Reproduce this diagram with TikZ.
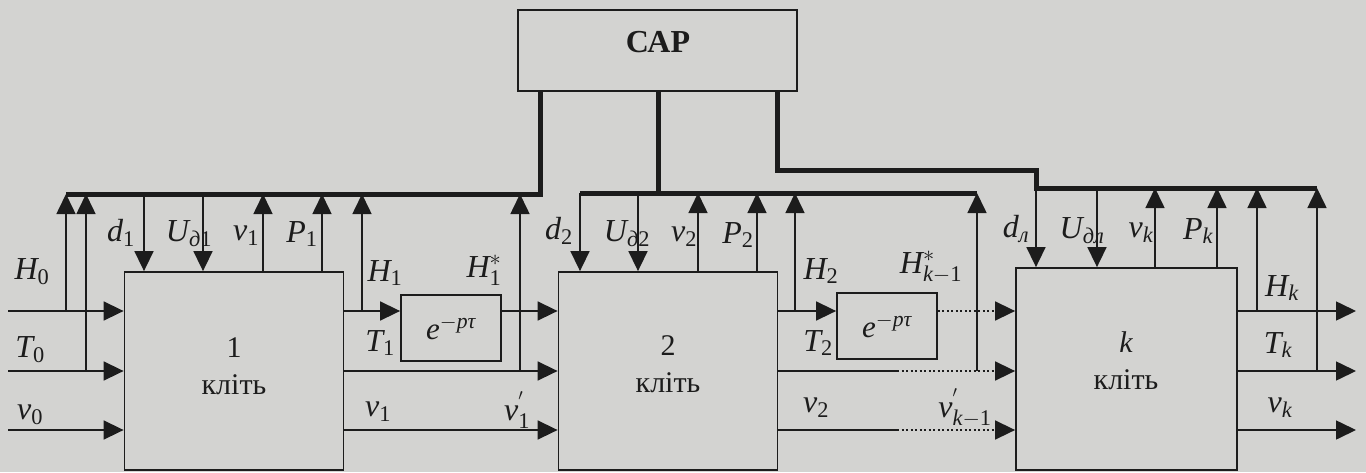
\documentclass[tikz,border=0pt]{standalone}
\usepackage{fix-cm}
\usepackage{amsmath}
\usepackage{fontspec}
\setmainfont{Liberation Serif}
\usetikzlibrary{arrows.meta}

\definecolor{paper}{RGB}{211,211,209}
\definecolor{ink}{RGB}{28,28,28}

% italic letter of the main font inside math
\newcommand{\tv}[1]{\text{\itshape #1}}
\newcommand{\tn}[1]{\text{#1}}

\tikzset{
  box/.style={draw, line width=1.8pt, inner sep=0pt},
  blk/.style={box, minimum width=219pt, minimum height=198pt},
  dly/.style={box, minimum width=100pt, minimum height=66pt, font=\fontsize{31}{34}\selectfont},
  sig/.style={line width=1.6pt, -{Triangle[length=20pt,width=19pt]}},
  wire/.style={line width=1.6pt},
  dots/.style={line width=1.6pt, dash pattern=on 2pt off 2.5pt},
  bus/.style={line width=5pt},
  lbl/.style={inner sep=0pt, font=\fontsize{32}{34}\selectfont},
  blktxt/.style={inner sep=0pt, align=center, font=\fontsize{30}{37}\selectfont},
}

\begin{document}
\begin{tikzpicture}[x=1pt, y=-1pt, color=ink]
  \fill[paper] (0,0) rectangle (1366,472);
  % Boxes:
  \node[box, minimum width=279pt, minimum height=81pt] (sar) at (657.5,50.5) {};
  \node[inner sep=0pt, font=\bfseries\fontsize{32}{36}\selectfont] (sartxt) at (658,42) {САР};
  \node[blk] (b1) at (234,371) {};
  \node[blk] (b2) at (668,371) {};
  \node[blk, minimum width=221pt, minimum height=202pt] (bk) at (1126.5,369) {};
  \node[blktxt] (b1txt) at (234,366) {1\\кліть};
  \node[blktxt] (b2txt) at (668,364) {2\\кліть};
  \node[blktxt] (bktxt) at (1126,361) {\itshape k\\\upshape кліть};
  \node[dly] (del1) at (451,328) {$\tv{e}^{-\tv{pτ}}$};
  \node[dly] (del2) at (887,326) {$\tv{e}^{-\tv{pτ}}$};

  % Buses from the controller:
  \coordinate (bus1w) at (66,194);
  \coordinate (bus1e) at (540,194);
  \coordinate (bus2w) at (580,193);
  \coordinate (bus2e) at (977,193);
  \coordinate (bus3w) at (1036,188);
  \coordinate (bus3e) at (1317,188);
  \coordinate (bend) at (777,170);
  \draw[bus] (bus1w) -- (bus1e) -- (bus1e |- sar.south);
  \draw[bus] (bus2w) -- (bus2e);
  \draw[bus] (658,193) -- (658,91);
  \draw[bus] (bend |- sar.south) -- (bend) -| (bus3w) -- (bus3e);

  % Inputs of block 1:
  \coordinate (inH) at (8,311);
  \coordinate (inT) at (8,371);
  \coordinate (inV) at (8,430);
  \draw[sig] (inH) -- (inH -| b1.west);
  \draw[sig] (inT) -- (inT -| b1.west);
  \draw[sig] (inV) -- (inV -| b1.west);
  \draw[sig] (66,311) -- (bus1w);
  \draw[sig] (86,371) -- (86,194);

  % Block 1 to the bus:
  \draw[sig] (144,194) -- (144,194 |- b1.north);
  \draw[sig] (203,194) -- (203,194 |- b1.north);
  \draw[sig] (263,194 |- b1.north) -- (263,194);
  \draw[sig] (322,194 |- b1.north) -- (322,194);

  % Block 1 outputs:
  \draw[sig] (b1.east |- inH) -- (del1.west |- inH);
  \draw[sig] (362,311) -- (362,194);
  \draw[sig] (del1.east |- inH) -- (b2.west |- inH);
  \draw[sig] (b1.east |- inT) -- (b2.west |- inT);
  \draw[sig] (520,371) -- (520,194);
  \draw[sig] (b1.east |- inV) -- (b2.west |- inV);

  % Block 2 to the bus:
  \draw[sig] (bus2w) -- (bus2w |- b2.north);
  \draw[sig] (638,193) -- (638,193 |- b2.north);
  \draw[sig] (698,193 |- b2.north) -- (698,193);
  \draw[sig] (757,193 |- b2.north) -- (757,193);

  % Block 2 outputs:
  \draw[sig] (b2.east |- inH) -- (del2.west |- inH);
  \draw[sig] (795,311) -- (795,193);
  \draw[dots, -{Triangle[length=20pt,width=19pt]}] (del2.east |- inH) -- (bk.west |- inH);
  \draw[wire] (b2.east |- inT) -- (897,371);
  \draw[dots, -{Triangle[length=20pt,width=19pt]}] (897,371) -- (bk.west |- inT);
  \draw[sig] (977,371) -- (bus2e);
  \draw[wire] (b2.east |- inV) -- (897,430);
  \draw[dots, -{Triangle[length=20pt,width=19pt]}] (897,430) -- (bk.west |- inV);

  % Block k to the bus:
  \draw[sig] (bus3w) -- (bus3w |- bk.north);
  \draw[sig] (1097,188) -- (1097,188 |- bk.north);
  \draw[sig] (1155,188 |- bk.north) -- (1155,188);
  \draw[sig] (1217,188 |- bk.north) -- (1217,188);

  % Block k outputs:
  \coordinate (outH) at (1356,311);
  \coordinate (outT) at (1356,371);
  \coordinate (outV) at (1356,430);
  \draw[sig] (bk.east |- outH) -- (outH);
  \draw[sig] (bk.east |- outT) -- (outT);
  \draw[sig] (bk.east |- outV) -- (outV);
  \draw[sig] (1257,311) -- (1257,188);
  \draw[sig] (1317,371) -- (bus3e);

  % Labels:
  \node[lbl] (lH0) at (32,272) {$\tv{H}_{\tn{0}}$};
  \node[lbl] (lT0) at (30,350) {$\tv{T}_{\tn{0}}$};
  \node[lbl] (lv0) at (30,415) {$\tv{v}_{\tn{0}}$};
  \node[lbl] (ld1) at (121,233) {$\tv{d}_{\tn{1}}$};
  \node[lbl] (lU1) at (189,234) {$\tv{U}_{\tv{д}\tn{1}}$};
  \node[lbl] (lnu1) at (246,236) {$\tv{ν}_{\tn{1}}$};
  \node[lbl] (lP1) at (302,234) {$\tv{P}_{\tn{1}}$};
  \node[lbl] (lH1) at (385,273) {$\tv{H}_{\tn{1}}$};
  \node[lbl] (lT1) at (380,343) {$\tv{T}_{\tn{1}}$};
  \node[lbl] (lH1s) at (484,270) {$\tv{H}_{\tn{1}}^{*}$};
  \node[lbl] (lv1) at (378,412) {$\tv{v}_{\tn{1}}$};
  \node[lbl] (lv1s) at (517,410) {$\tv{v}_{\tn{1}}^{'}$};
  \node[lbl] (ld2) at (559,231) {$\tv{d}_{\tn{2}}$};
  \node[lbl] (lU2) at (627,234) {$\tv{U}_{\tv{д}\tn{2}}$};
  \node[lbl] (lnu2) at (684,237) {$\tv{v}_{\tn{2}}$};
  \node[lbl] (lP2) at (738,235) {$\tv{P}_{\tn{2}}$};
  \node[lbl] (lH2) at (821,271) {$\tv{H}_{\tn{2}}$};
  \node[lbl] (lHks) at (931,267) {$\tv{H}_{\tv{k}-\tn{1}}^{*}$};
  \node[lbl] (lT2) at (818,343) {$\tv{T}_{\tn{2}}$};
  \node[lbl] (lv2) at (816,408) {$\tv{v}_{\tn{2}}$};
  \node[lbl] (lvks) at (965,408) {$\tv{v}_{\tv{k}-\tn{1}}^{'}$};
  \node[lbl] (ldk) at (1016,229) {$\tv{d}_{\tv{л}}$};
  \node[lbl] (lUk) at (1082,231) {$\tv{U}_{\tv{дл}}$};
  \node[lbl] (lnuk) at (1141,233) {$\tv{ν}_{\tv{k}}$};
  \node[lbl] (lPk) at (1198,231) {$\tv{P}_{\tv{k}}$};
  \node[lbl] (lHk) at (1282,288) {$\tv{H}_{\tv{k}}$};
  \node[lbl] (lTk) at (1278,345) {$\tv{T}_{\tv{k}}$};
  \node[lbl] (lvk) at (1280,408) {$\tv{v}_{\tv{k}}$};
\end{tikzpicture}
\end{document}
